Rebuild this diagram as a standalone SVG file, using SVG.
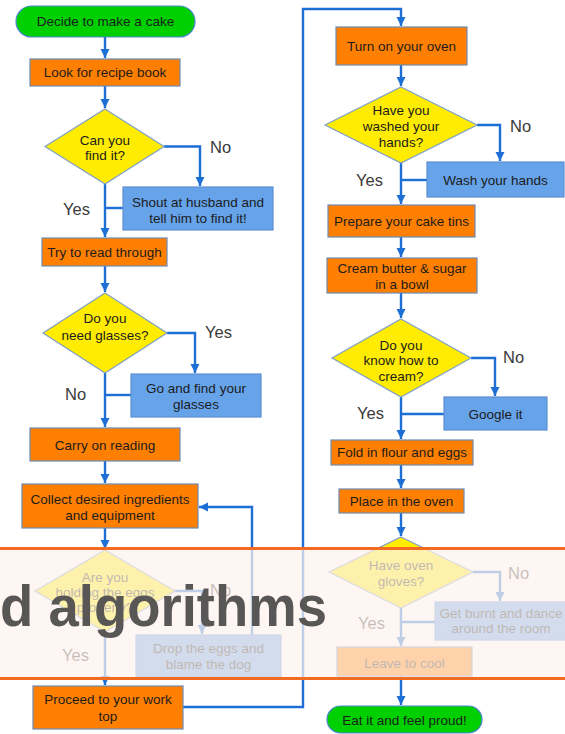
<svg xmlns="http://www.w3.org/2000/svg" width="565" height="734" viewBox="0 0 565 734">
<style>
.t{font-family:"Liberation Sans",Arial,sans-serif;font-size:13.5px;fill:#1c1c1c;text-anchor:middle}
.l{font-family:"Liberation Sans",Arial,sans-serif;font-size:16.5px;fill:#3a3a3a}
.term{fill:#00d000;stroke:#4f86cf;stroke-width:1.2}
.proc{fill:#ff8000;stroke:#6f8ab3;stroke-width:1.2}
.side{fill:#66a3e9;stroke:#5d8fd3;stroke-width:1.2}
.dec{fill:#ffec00;stroke:#7e9fc8;stroke-width:1.2}
.c{fill:none;stroke:#1d6fd6;stroke-width:2.4}
.ca{fill:none;stroke:#1d6fd6;stroke-width:2.4;marker-end:url(#ah)}
</style>
<defs>
<marker id="ah" markerUnits="userSpaceOnUse" markerWidth="10" markerHeight="10" refX="9" refY="5" orient="auto">
<path d="M0,0.5 L9,5 L0,9.5 Z" fill="#1d6fd6"/>
</marker>
</defs>
<rect width="565" height="734" fill="#ffffff"/>
<g id="connectors">
<path class="ca" d="M105,37 V58"/>
<path class="ca" d="M105,86 V108"/>
<path class="ca" d="M164,146.5 H200 V186"/>
<path class="c" d="M123,208 H105"/>
<path class="ca" d="M105,184 V237"/>
<path class="ca" d="M105,266 V292"/>
<path class="ca" d="M167,333 H195 V373"/>
<path class="c" d="M131,395 H105"/>
<path class="ca" d="M105,373 V427"/>
<path class="ca" d="M105,461 V483"/>
<path class="ca" d="M252,635 V507 H199"/>
<path class="ca" d="M105,528 V549"/>
<path class="ca" d="M175,591 H202 V634"/>
<path class="ca" d="M105,632 V685"/>
<path class="ca" d="M183,707 H303 V9 H401 V26"/>
<path class="ca" d="M401,65 V86"/>
<path class="ca" d="M477,125 H500 V161"/>
<path class="c" d="M427,180 H401"/>
<path class="ca" d="M401,163 V204"/>
<path class="ca" d="M401,237 V257"/>
<path class="ca" d="M401,293 V318"/>
<path class="ca" d="M471,358 H495 V396"/>
<path class="c" d="M444,414 H401"/>
<path class="ca" d="M401,397 V439"/>
<path class="ca" d="M401,465 V488"/>
<path class="ca" d="M401,513 V536"/>
<path class="ca" d="M473,572 H500 V601"/>
<path class="c" d="M435,622 H401"/>
<path class="ca" d="M401,608 V646"/>
<path class="ca" d="M401,676 V705"/>
</g>
<g id="labels">
<text class="l" x="210" y="153">No</text>
<text class="l" x="63" y="215">Yes</text>
<text class="l" x="205" y="338">Yes</text>
<text class="l" x="65" y="400">No</text>
<text class="l" x="210" y="596">No</text>
<text class="l" x="62" y="661">Yes</text>
<text class="l" x="510" y="132">No</text>
<text class="l" x="356" y="186">Yes</text>
<text class="l" x="503" y="363">No</text>
<text class="l" x="357" y="419">Yes</text>
<text class="l" x="508" y="579">No</text>
<text class="l" x="358" y="629">Yes</text>
</g>
<g id="n-start"><rect class="term" x="16" y="6" width="179" height="31" rx="15.5"/><text class="t" x="105.5" y="26">Decide to make a cake</text></g>
<g id="n-look"><rect class="proc" x="30" y="59" width="150" height="27"/><text class="t" x="105" y="77">Look for recipe book</text></g>
<g id="n-find"><polygon class="dec" points="105,109 164,146.5 105,184 45,146.5"/><text class="t" x="105" y="145">Can you</text><text class="t" x="105" y="160">find it?</text></g>
<g id="n-shout"><rect class="side" x="123" y="187" width="150" height="43"/><text class="t" x="198" y="206.5">Shout at husband and</text><text class="t" x="198" y="222.5">tell him to find it!</text></g>
<g id="n-try"><rect class="proc" x="42" y="238" width="125" height="28"/><text class="t" x="104.5" y="256.5">Try to read through</text></g>
<g id="n-glassesq"><polygon class="dec" points="105,293 167,333 105,373 43,333"/><text class="t" x="105" y="322.5">Do you</text><text class="t" x="105" y="339.5">need glasses?</text></g>
<g id="n-glasses"><rect class="side" x="131" y="374" width="130" height="43"/><text class="t" x="196" y="392.5">Go and find your</text><text class="t" x="196" y="408.5">glasses</text></g>
<g id="n-carry"><rect class="proc" x="30" y="428" width="150" height="33"/><text class="t" x="105" y="449.5">Carry on reading</text></g>
<g id="n-collect"><rect class="proc" x="22" y="484" width="176" height="44"/><text class="t" x="110" y="503.5">Collect desired ingredients</text><text class="t" x="110" y="519.5">and equipment</text></g>
<g id="n-eggsq"><polygon class="dec" points="105,550 175,591 105,632 35,591"/><text class="t" x="105" y="581.5">Are you</text><text class="t" x="105" y="596.5">holding the eggs</text><text class="t" x="105" y="611.5">properly?</text></g>
<g id="n-drop"><rect class="side" x="136" y="635" width="145" height="42"/><text class="t" x="208.5" y="652.5">Drop the eggs and</text><text class="t" x="208.5" y="668.5">blame the dog</text></g>
<g id="n-proceed"><rect class="proc" x="33" y="686" width="150" height="43"/><text class="t" x="108" y="703.5">Proceed to your work</text><text class="t" x="108" y="720.5">top</text></g>
<g id="n-oven"><rect class="proc" x="336" y="27" width="131" height="38"/><text class="t" x="401.5" y="51">Turn on your oven</text></g>
<g id="n-washq"><polygon class="dec" points="401,87 477,125 401,163 325,125"/><text class="t" x="401" y="114.5">Have you</text><text class="t" x="401" y="130.5">washed your</text><text class="t" x="401" y="146.5">hands?</text></g>
<g id="n-wash"><rect class="side" x="427" y="162" width="137" height="35"/><text class="t" x="495.5" y="184.5">Wash your hands</text></g>
<g id="n-tins"><rect class="proc" x="328" y="205" width="147" height="32"/><text class="t" x="401.5" y="226">Prepare your cake tins</text></g>
<g id="n-cream"><rect class="proc" x="327" y="258" width="150" height="35"/><text class="t" x="402" y="272.5">Cream butter &amp; sugar</text><text class="t" x="402" y="288.5">in a bowl</text></g>
<g id="n-creamq"><polygon class="dec" points="401,319 471,358 401,397 332,358"/><text class="t" x="401" y="349.5">Do you</text><text class="t" x="401" y="364.5">know how to</text><text class="t" x="401" y="380.5">cream?</text></g>
<g id="n-google"><rect class="side" x="444" y="397" width="103" height="33"/><text class="t" x="495.5" y="418.5">Google it</text></g>
<g id="n-fold"><rect class="proc" x="331" y="440" width="142" height="25"/><text class="t" x="402" y="457">Fold in flour and eggs</text></g>
<g id="n-place"><rect class="proc" x="339" y="489" width="125" height="24"/><text class="t" x="401.5" y="505.5">Place in the oven</text></g>
<g id="n-glovesq"><polygon class="dec" points="401,537 473,572 401,608 329,572"/><text class="t" x="401" y="569.5">Have oven</text><text class="t" x="401" y="586">gloves?</text></g>
<g id="n-burnt"><rect class="side" x="435" y="602" width="132" height="38"/><text class="t" x="501" y="617.5">Get burnt and dance</text><text class="t" x="501" y="632.5">around the room</text></g>
<g id="n-cool"><rect class="proc" x="337" y="647" width="135" height="29"/><text class="t" x="404.5" y="667.5">Leave to cool</text></g>
<g id="n-end"><rect class="term" x="327" y="706" width="155" height="27" rx="13.5"/><text class="t" x="404.5" y="724.5">Eat it and feel proud!</text></g>
<g id="banner">
<rect x="0" y="549" width="565" height="129" fill="#fdf3ed" opacity="0.72"/>
<line x1="0" y1="548.5" x2="565" y2="548.5" stroke="#f26b21" stroke-width="3"/>
<line x1="0" y1="678.5" x2="565" y2="678.5" stroke="#f26b21" stroke-width="3"/>
<text x="0" y="626" textLength="327" lengthAdjust="spacingAndGlyphs" font-family="'Liberation Sans',Arial,sans-serif" font-weight="bold" font-size="58" fill="#595656">d algorithms</text>
</g>
</svg>
